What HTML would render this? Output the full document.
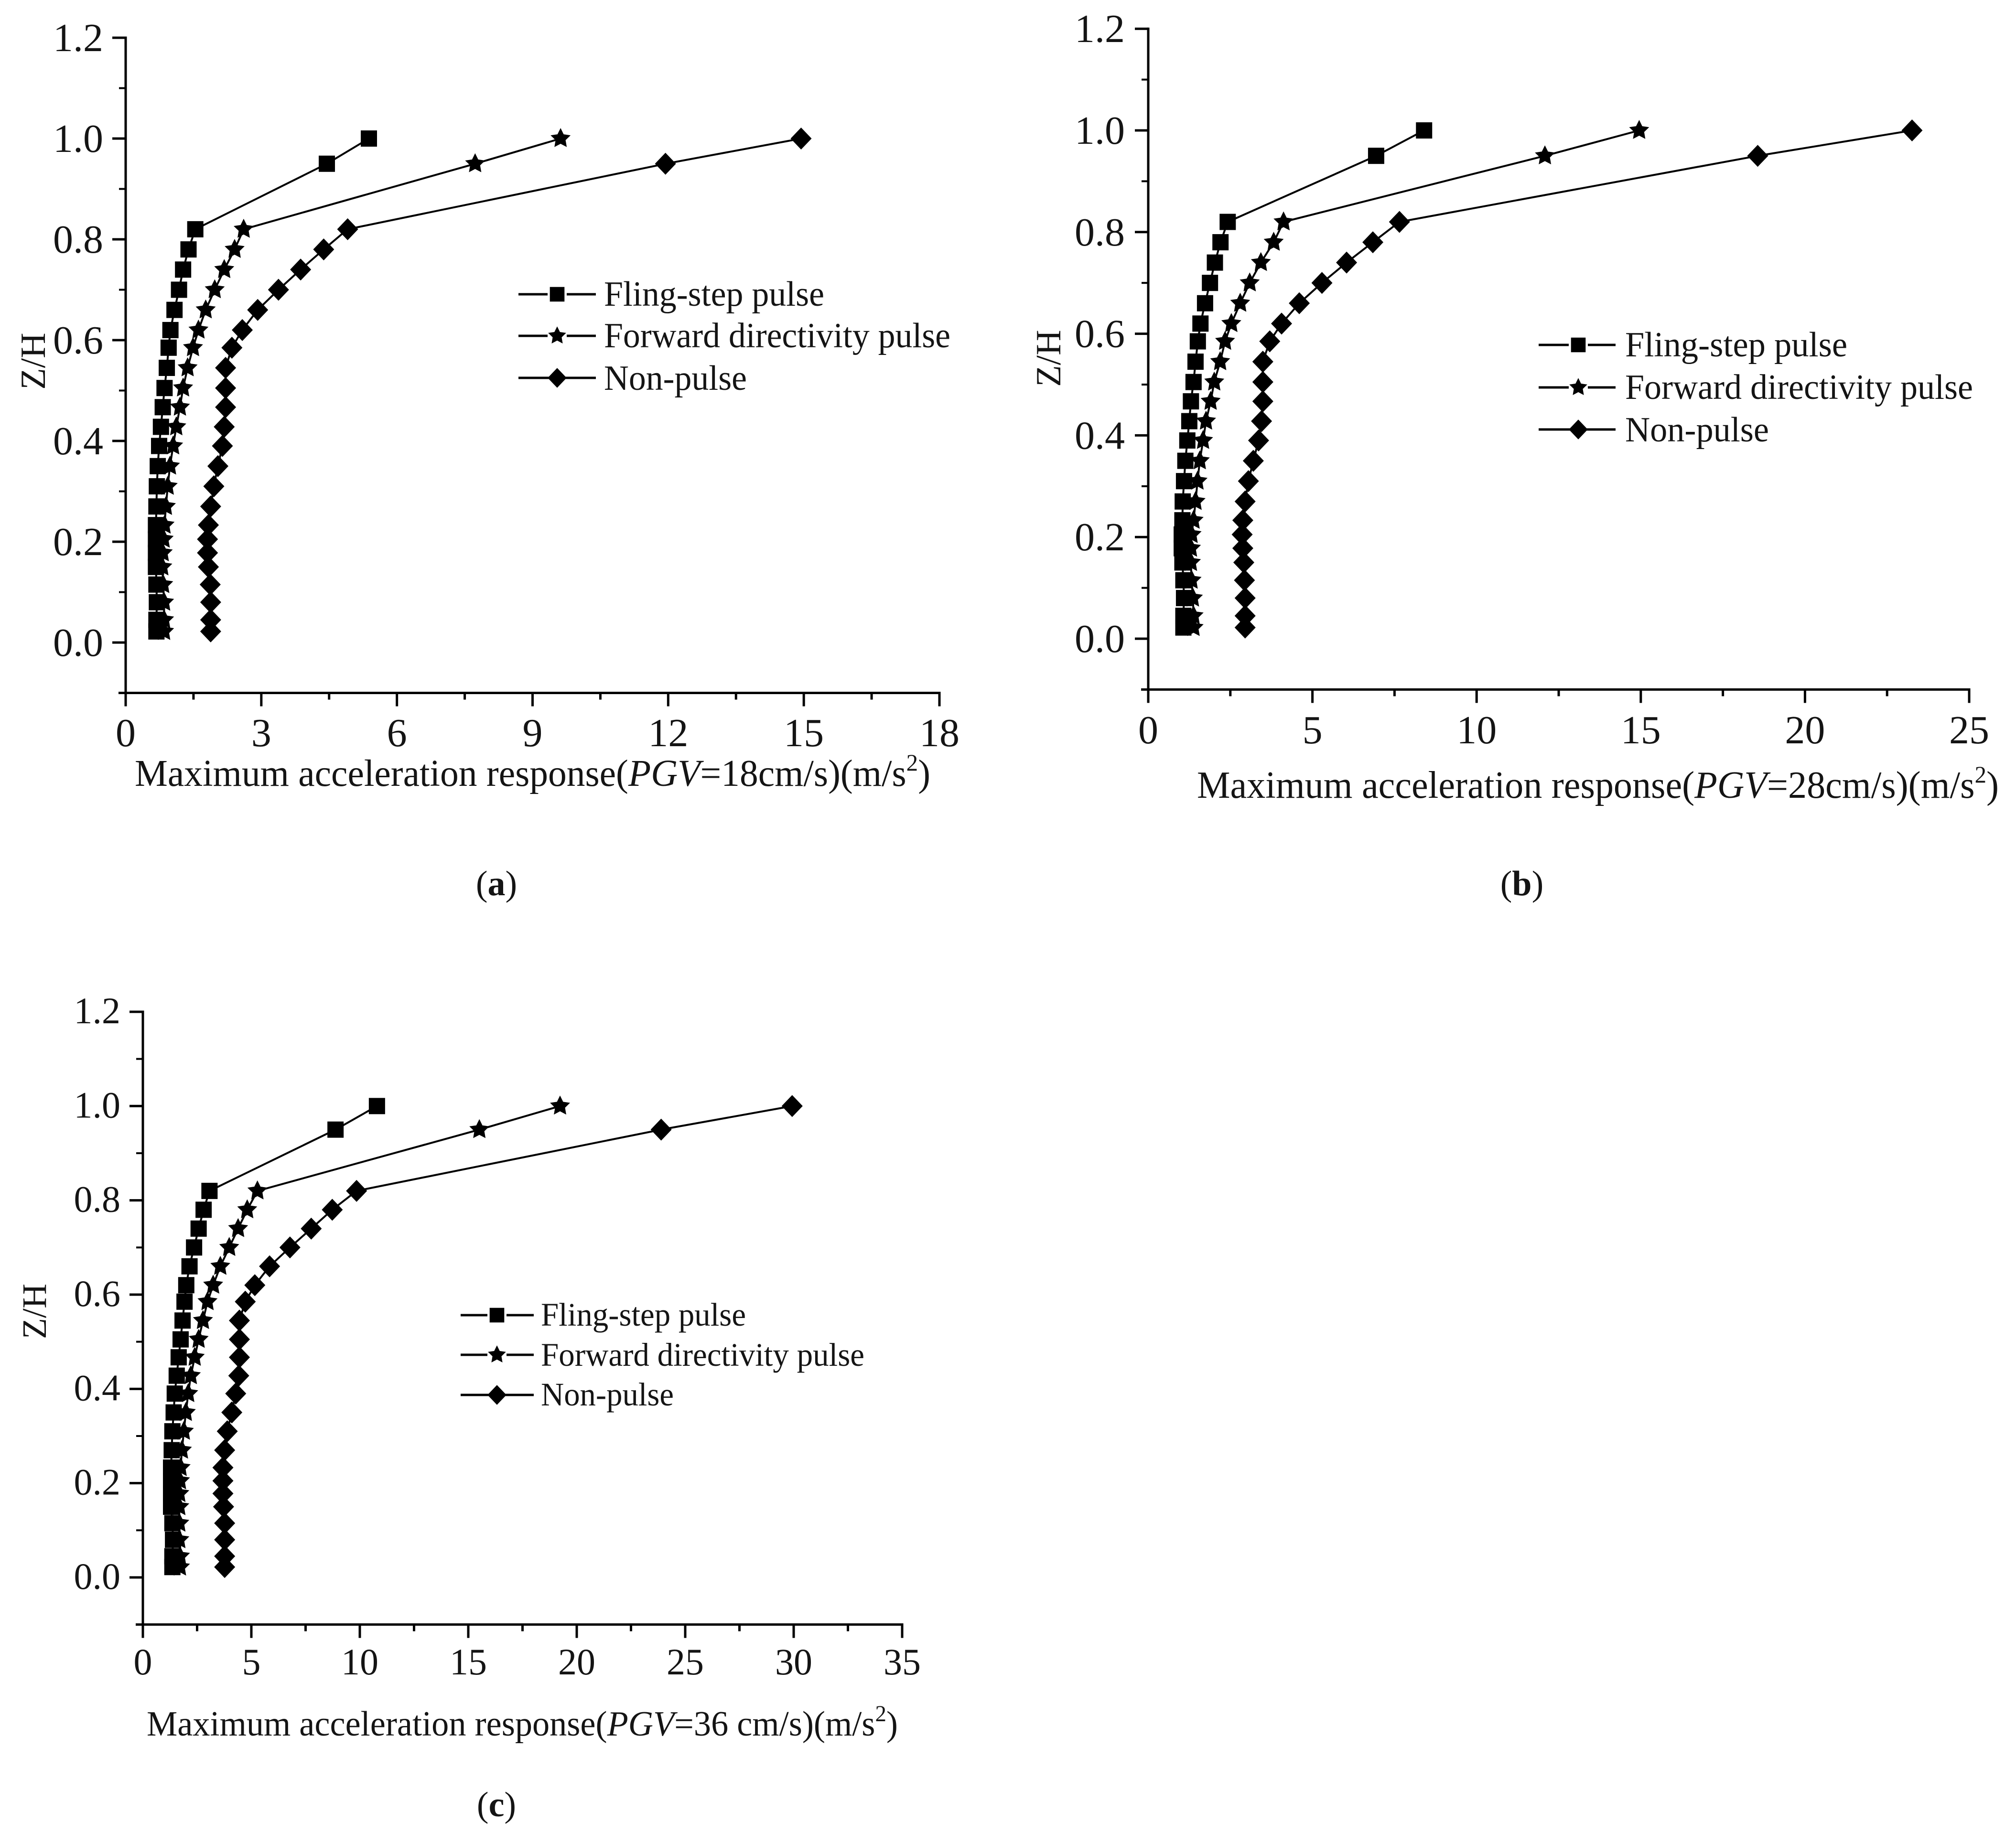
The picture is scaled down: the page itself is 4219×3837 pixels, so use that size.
<!DOCTYPE html>
<html lang="en">
<head>
<meta charset="utf-8">
<title>Maximum acceleration response profiles</title>
<style>
html,body{margin:0;padding:0;background:#fff;}
svg{display:block;}
text{font-family:"Liberation Serif",serif;fill:#141414;}
</style>
</head>
<body>
<svg id="figure" xmlns="http://www.w3.org/2000/svg" width="4219" height="3837" viewBox="0 0 4219 3837">
  <rect x="0" y="0" width="4219" height="3837" fill="#fff"/>

  <g id="panel-a">
    <g id="axes-a"></g>
    <g id="marks-a"></g>
    <text transform="translate(94,756) rotate(-90)" font-size="74" text-anchor="middle">Z/H</text>
    <text x="282" y="1645" font-size="79" textLength="1665" lengthAdjust="spacingAndGlyphs">Maximum acceleration response(<tspan font-style="italic">PGV</tspan>=18cm/s)(m/s<tspan font-size="50" dy="-32">2</tspan><tspan dy="32">)</tspan></text>
    <g>
      <text x="1264" y="640" font-size="74" textLength="461" lengthAdjust="spacingAndGlyphs">Fling-step pulse</text>
      <text x="1264" y="727" font-size="74" textLength="725" lengthAdjust="spacingAndGlyphs">Forward directivity pulse</text>
      <text x="1264" y="816" font-size="74" textLength="299" lengthAdjust="spacingAndGlyphs">Non-pulse</text>
    </g>
    <text x="1039" y="1874" font-size="74" text-anchor="middle">(<tspan font-weight="bold">a</tspan>)</text>
  </g>

  <g id="panel-b">
    <g id="axes-b"></g>
    <g id="marks-b"></g>
    <text transform="translate(2219,750) rotate(-90)" font-size="74" text-anchor="middle">Z/H</text>
    <text x="2505" y="1670" font-size="80" textLength="1678" lengthAdjust="spacingAndGlyphs">Maximum acceleration response(<tspan font-style="italic">PGV</tspan>=28cm/s)(m/s<tspan font-size="50" dy="-32">2</tspan><tspan dy="32">)</tspan></text>
    <g>
      <text x="3401" y="746" font-size="74" textLength="465" lengthAdjust="spacingAndGlyphs">Fling-step pulse</text>
      <text x="3401" y="835" font-size="74" textLength="728" lengthAdjust="spacingAndGlyphs">Forward directivity pulse</text>
      <text x="3401" y="924" font-size="74" textLength="301" lengthAdjust="spacingAndGlyphs">Non-pulse</text>
    </g>
    <text x="3185" y="1874" font-size="74" text-anchor="middle">(<tspan font-weight="bold">b</tspan>)</text>
  </g>

  <g id="panel-c">
    <g id="axes-c"></g>
    <g id="marks-c"></g>
    <text transform="translate(96,2745) rotate(-90)" font-size="72" text-anchor="middle">Z/H</text>
    <text x="307" y="3633" font-size="74" textLength="1572" lengthAdjust="spacingAndGlyphs">Maximum acceleration response(<tspan font-style="italic">PGV</tspan>=36 cm/s)(m/s<tspan font-size="48" dy="-30">2</tspan><tspan dy="30">)</tspan></text>
    <g>
      <text x="1132" y="2775" font-size="69" textLength="429" lengthAdjust="spacingAndGlyphs">Fling-step pulse</text>
      <text x="1132" y="2859" font-size="69" textLength="677" lengthAdjust="spacingAndGlyphs">Forward directivity pulse</text>
      <text x="1132" y="2942" font-size="69" textLength="278" lengthAdjust="spacingAndGlyphs">Non-pulse</text>
    </g>
    <text x="1039" y="3802" font-size="74" text-anchor="middle">(<tspan font-weight="bold">c</tspan>)</text>
  </g>
</svg>

<script>
// ---- chart data ----
const zLevels = [1.0,0.95,0.82,0.78,0.74,0.70,0.66,0.62,0.585,0.545,0.505,0.467,0.428,0.39,0.35,0.31,0.27,0.233,0.205,0.178,0.15,0.115,0.08,0.045,0.022];
const yTickLabels = ['0.0','0.2','0.4','0.6','0.8','1.0','1.2'];

const xTickLabelsA = ['0','3','6','9','12','15','18'];
const flingA = [5.38,4.45,1.54,1.39,1.27,1.18,1.08,0.99,0.95,0.91,0.86,0.82,0.78,0.74,0.71,0.69,0.68,0.67,0.67,0.67,0.67,0.68,0.69,0.68,0.68];
const forwardA = [9.62,7.73,2.61,2.41,2.18,1.97,1.77,1.61,1.49,1.37,1.27,1.2,1.12,1.05,0.98,0.93,0.89,0.86,0.84,0.82,0.81,0.83,0.85,0.85,0.85];
const nonPulseA = [14.94,11.94,4.91,4.38,3.87,3.38,2.92,2.58,2.35,2.21,2.21,2.21,2.18,2.14,2.04,1.95,1.88,1.83,1.81,1.81,1.83,1.87,1.88,1.88,1.88];

const xTickLabelsB = ['0','5','10','15','20','25'];
const flingB = [8.4,6.94,2.42,2.2,2.03,1.88,1.73,1.59,1.51,1.44,1.38,1.3,1.25,1.19,1.13,1.09,1.05,1.04,1.02,1.02,1.04,1.07,1.09,1.07,1.07];
const forwardB = [14.95,12.08,4.12,3.82,3.43,3.09,2.8,2.53,2.34,2.19,2.01,1.9,1.76,1.67,1.57,1.5,1.44,1.38,1.32,1.3,1.3,1.32,1.36,1.38,1.38];
const nonPulseB = [23.26,18.56,7.65,6.84,6.04,5.29,4.6,4.06,3.7,3.49,3.49,3.49,3.45,3.36,3.2,3.05,2.95,2.88,2.86,2.88,2.91,2.93,2.95,2.95,2.95];

const xTickLabelsC = ['0','5','10','15','20','25','30','35'];
const flingC = [10.79,8.88,3.07,2.8,2.57,2.36,2.15,2.0,1.92,1.83,1.74,1.65,1.56,1.47,1.42,1.36,1.33,1.3,1.3,1.3,1.3,1.36,1.39,1.36,1.36];
const forwardC = [19.23,15.51,5.28,4.81,4.39,3.98,3.57,3.24,2.98,2.77,2.57,2.39,2.21,2.09,1.98,1.89,1.8,1.74,1.71,1.68,1.68,1.68,1.68,1.71,1.71];
const nonPulseC = [29.93,23.89,9.85,8.73,7.76,6.78,5.84,5.16,4.72,4.45,4.45,4.45,4.42,4.28,4.1,3.89,3.77,3.69,3.69,3.69,3.72,3.77,3.77,3.77,3.77];

// ---- drawing ----
const NS = 'http://www.w3.org/2000/svg';
function make(tag, parent) {
  const el = document.createElementNS(NS, tag);
  parent.appendChild(el);
  return el;
}
function starPoints(cx, cy, r) {
  const pts = [];
  for (let i = 0; i < 10; i++) {
    const rad = i % 2 === 0 ? r : r * 0.5;
    const a = -Math.PI / 2 + i * Math.PI / 5;
    pts.push((cx + rad * Math.cos(a)).toFixed(1) + ',' + (cy + rad * Math.sin(a)).toFixed(1));
  }
  return pts.join(' ');
}
function drawMarker(kind, cx, cy, parent, scale) {
  let el;
  if (kind === 'square') {
    el = make('rect', parent);
    el.setAttribute('x', cx - 17 * scale);
    el.setAttribute('y', cy - 17 * scale);
    el.setAttribute('width', 34 * scale);
    el.setAttribute('height', 34 * scale);
    
    
  } else if (kind === 'star') {
    el = make('polygon', parent);
    el.setAttribute('points', starPoints(cx, cy, 22 * scale));
    
    
  } else {
    el = make('polygon', parent);
    const w = 22 * scale, h = 23 * scale;
    el.setAttribute('points', (cx) + ',' + (cy - h) + ' ' + (cx + w) + ',' + cy + ' ' + cx + ',' + (cy + h) + ' ' + (cx - w) + ',' + cy);
    
    
  }
  el.setAttribute('fill', '#000');
}
function drawSegment(parent, x1, y1, x2, y2, sw) {
  const el = make('line', parent);
  el.setAttribute('x1', x1);
  el.setAttribute('y1', y1);
  el.setAttribute('x2', x2);
  el.setAttribute('y2', y2);
  el.setAttribute('stroke', '#000');
  el.setAttribute('stroke-width', sw);
  
  
}
function drawPanel(cfg) {
  const xScale = v => cfg.x0 + v * (cfg.x1 - cfg.x0) / cfg.xMax;
  const yScale = v => cfg.y0 - v * cfg.yUnit;
  const axes = document.getElementById(cfg.axesId);
  const marks = document.getElementById(cfg.marksId);

  const yTop = yScale(1.2), yBottom = yScale(-0.1);
  drawSegment(axes, cfg.x0, yTop - 2.5, cfg.x0, yBottom + 28, 5);
  drawSegment(axes, cfg.x0 - 15, yBottom, cfg.x1 + 2.5, yBottom, 5);

  yTickLabels.forEach(label => {
    const v = Number(label);
    const y = yScale(v);
    drawSegment(axes, cfg.x0 - 28, y, cfg.x0, y, 5);
    const t = make('text', axes);
    t.textContent = label;
    t.setAttribute('x', cfg.yLabelRight);
    t.setAttribute('y', y + cfg.yLabelDy);
    t.setAttribute('font-size', cfg.tickFont);
    t.setAttribute('text-anchor', 'end');
    
    
    if (v < 1.2) drawSegment(axes, cfg.x0 - 14, yScale(v + 0.1), cfg.x0, yScale(v + 0.1), 4);
  });

  cfg.xLabels.forEach((label, i) => {
    const v = Number(label);
    const x = xScale(v);
    if (i > 0) drawSegment(axes, x, yBottom, x, yBottom + 28, 5);
    const t = make('text', axes);
    t.textContent = label;
    t.setAttribute('x', x);
    t.setAttribute('y', cfg.xLabelBaseline);
    t.setAttribute('font-size', cfg.tickFont);
    t.setAttribute('text-anchor', 'middle');
    
    
    if (i < cfg.xLabels.length - 1) {
      const mid = xScale((v + Number(cfg.xLabels[i + 1])) / 2);
      drawSegment(axes, mid, yBottom, mid, yBottom + 14, 5);
    }
  });

  cfg.series.forEach(s => {
    const g = make('g', marks);
    
    
    const line = make('polyline', g);
    line.setAttribute('points', s.values.map((v, i) => xScale(v).toFixed(1) + ',' + yScale(zLevels[i]).toFixed(1)).join(' '));
    line.setAttribute('fill', 'none');
    line.setAttribute('stroke', '#000');
    line.setAttribute('stroke-width', 4);
    
    
    s.values.forEach((v, i) => drawMarker(s.kind, xScale(v), yScale(zLevels[i]), g, 1));
  });

  cfg.legend.forEach(row => {
    const g = make('g', marks);
    
    
    const gap = row.kind === 'diamond' ? 0 : 20;
    drawSegment(g, cfg.legendX0, row.y, cfg.legendXm - gap, row.y, 5);
    drawSegment(g, cfg.legendXm + gap, row.y, cfg.legendX1, row.y, 5);
    drawMarker(row.kind, cfg.legendXm, row.y, g, 0.9);
  });
}

drawPanel({
  axesId:'axes-a', marksId:'marks-a', x0:263, x1:1966, xMax:18, y0:1345, yUnit:1055,
  xLabels:xTickLabelsA, tickFont:84, yLabelRight:216, yLabelDy:28, xLabelBaseline:1562,
  series:[
    {name:'series-fling-step-pulse', kind:'square', values:flingA},
    {name:'series-forward-directivity-pulse', kind:'star', values:forwardA},
    {name:'series-non-pulse', kind:'diamond', values:nonPulseA}
  ],
  legendX0:1085, legendXm:1166, legendX1:1247,
  legend:[{kind:'square',y:616},{kind:'star',y:703},{kind:'diamond',y:791}]
});
drawPanel({
  axesId:'axes-b', marksId:'marks-b', x0:2403, x1:4121, xMax:25, y0:1337, yUnit:1064,
  xLabels:xTickLabelsB, tickFont:84, yLabelRight:2354, yLabelDy:28, xLabelBaseline:1556,
  series:[
    {name:'series-fling-step-pulse', kind:'square', values:flingB},
    {name:'series-forward-directivity-pulse', kind:'star', values:forwardB},
    {name:'series-non-pulse', kind:'diamond', values:nonPulseB}
  ],
  legendX0:3220, legendXm:3303, legendX1:3381,
  legend:[{kind:'square',y:722},{kind:'star',y:811},{kind:'diamond',y:899}]
});
drawPanel({
  axesId:'axes-c', marksId:'marks-c', x0:299, x1:1888, xMax:35, y0:3302, yUnit:986.7,
  xLabels:xTickLabelsC, tickFont:78, yLabelRight:252, yLabelDy:24, xLabelBaseline:3505,
  series:[
    {name:'series-fling-step-pulse', kind:'square', values:flingC},
    {name:'series-forward-directivity-pulse', kind:'star', values:forwardC},
    {name:'series-non-pulse', kind:'diamond', values:nonPulseC}
  ],
  legendX0:964, legendXm:1040, legendX1:1117,
  legend:[{kind:'square',y:2753},{kind:'star',y:2836},{kind:'diamond',y:2920}]
});
</script>
</body>
</html>
